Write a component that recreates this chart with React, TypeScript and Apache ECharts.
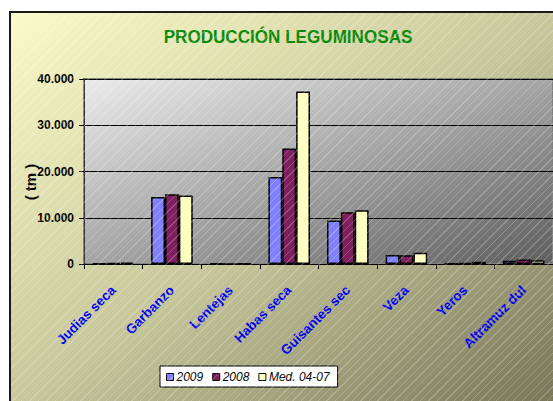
import React, { useEffect, useRef } from "react";
import * as echarts from "echarts";

const categories = [
  "Judias secas",
  "Garbanzos",
  "Lentejas",
  "Habas secas",
  "Guisantes secos",
  "Veza",
  "Yeros",
  "Altramuz dulce",
];
// labels as they are visible (clipped) in the chart
const visibleLabels = [
  "Judias seca",
  "Garbanzo",
  "Lentejas",
  "Habas seca",
  "Guisantes sec",
  "Veza",
  "Yeros",
  "Altramuz dul",
];
const seriesNames = ["2009", "2008", "Med. 04-07"];
const values2009 = [120, 14500, 60, 18800, 9400, 1950, 80, 700];
const values2008 = [180, 15100, 40, 25000, 11200, 1900, 180, 950];
const valuesMed = [300, 14800, 60, 37300, 11600, 2450, 480, 800];
const yTicks = { min: 0, max: 40000, interval: 10000 };
const titleText = "PRODUCCIÓN LEGUMINOSAS";
const yAxisTitle = "( tm )";

const colors = ["#8080ff", "#7f1f5f", "#ffffc0"];

const fmt = (v: number) => String(v).replace(/\B(?=(\d{3})+(?!\d))/g, ".");

export default function App() {
  const ref = useRef<HTMLDivElement>(null);
  useEffect(() => {
    if (!ref.current) return;
    const chart = echarts.init(ref.current, undefined, { renderer: "svg" });
    const font = "'Liberation Sans', Arial, sans-serif";
    chart.setOption({
      animation: false,
      backgroundColor: "#ffffff",
      textStyle: { fontFamily: font },
      graphic: [
        {
          type: "rect",
          z: -10,
          silent: true,
          shape: { x: 10, y: 12, width: 560, height: 400 },
          style: {
            fill: new echarts.graphic.LinearGradient(0, 0, 1, 1, [
              { offset: 0, color: "#fbfbc8" },
              { offset: 0.5, color: "#c6c69a" },
              { offset: 1, color: "#727256" },
            ]),
            stroke: "#1a1a1a",
            lineWidth: 2,
          },
        },
        {
          type: "text",
          x: 288,
          y: 37,
          scaleX: 0.9,
          style: {
            text: titleText,
            fill: "#0a8a0a",
            font: `bold 19px ${font}`,
            align: "center",
            verticalAlign: "middle",
          },
        },
        {
          type: "text",
          x: 30,
          y: 182,
          rotation: Math.PI / 2,
          style: {
            text: yAxisTitle,
            fill: "#000",
            font: `bold 15px ${font}`,
            align: "center",
            verticalAlign: "middle",
          },
        },
      ],
      grid: {
        left: 84,
        right: -3,
        top: 79,
        bottom: 137,
        show: true,
        borderColor: "#808080",
        borderWidth: 2,
        backgroundColor: new echarts.graphic.LinearGradient(0, 0, 1, 1, [
          { offset: 0, color: "#ebebeb" },
          { offset: 1, color: "#5e5e5e" },
        ]),
      },
      legend: {
        left: 160,
        top: 366,
        data: seriesNames,
        itemWidth: 7,
        itemHeight: 7,
        itemGap: 9,
        icon: "rect",
        backgroundColor: "#ffffff",
        borderColor: "#000",
        borderWidth: 1,
        borderRadius: 0,
        padding: [5, 8, 4, 6],
        itemStyle: { borderColor: "#000", borderWidth: 1 },
        textStyle: {
          fontStyle: "italic",
          fontSize: 12,
          color: "#000",
          fontFamily: font,
          padding: [0, 0, 0, -2],
        },
      },
      xAxis: {
        type: "category",
        data: categories,
        axisLine: { show: true, lineStyle: { color: "#000", width: 1 } },
        axisTick: { show: true, length: 5, interval: 0, lineStyle: { color: "#000" } },
        axisLabel: {
          interval: 0,
          rotate: 45,
          margin: 24,
          color: "#0000ee",
          fontWeight: "bold",
          fontSize: 13.5,
          fontFamily: font,
          formatter: (_v: string, i: number) => visibleLabels[i],
        },
      },
      yAxis: {
        type: "value",
        min: yTicks.min,
        max: yTicks.max,
        interval: yTicks.interval,
        axisLine: { show: true, lineStyle: { color: "#333", width: 1 } },
        axisTick: { show: true, length: 5, lineStyle: { color: "#000" } },
        splitLine: { show: true, lineStyle: { color: "#000", width: 1 } },
        axisLabel: {
          formatter: (v: number) => fmt(v),
          color: "#000",
          fontWeight: "bold",
          fontSize: 12,
          fontFamily: font,
          margin: 10,
        },
      },
      series: [values2009, values2008, valuesMed].map((d, i) => ({
        type: "bar",
        name: seriesNames[i],
        data: d,
        barGap: "0%",
        barCategoryGap: "29%",
        itemStyle: { color: colors[i], borderColor: "#000", borderWidth: 1.5 },
      })),
    });
    return () => chart.dispose();
  }, []);
  return (
    <div style={{ position: "absolute", left: 0, top: 0, width: 553, height: 401, overflow: "hidden" }}>
      <div ref={ref} style={{ position: "absolute", left: 0, top: 0, width: 553, height: 401 }} />
      <div
        style={{
          position: "absolute",
          left: 11,
          top: 13,
          width: 560,
          height: 400,
          pointerEvents: "none",
          backgroundImage:
            "repeating-linear-gradient(135deg, rgba(255,255,255,0) 0px, rgba(255,255,255,0) 5px, rgba(255,255,255,0.22) 5px, rgba(255,255,255,0.22) 6px)",
        }}
      />
    </div>
  );
}
